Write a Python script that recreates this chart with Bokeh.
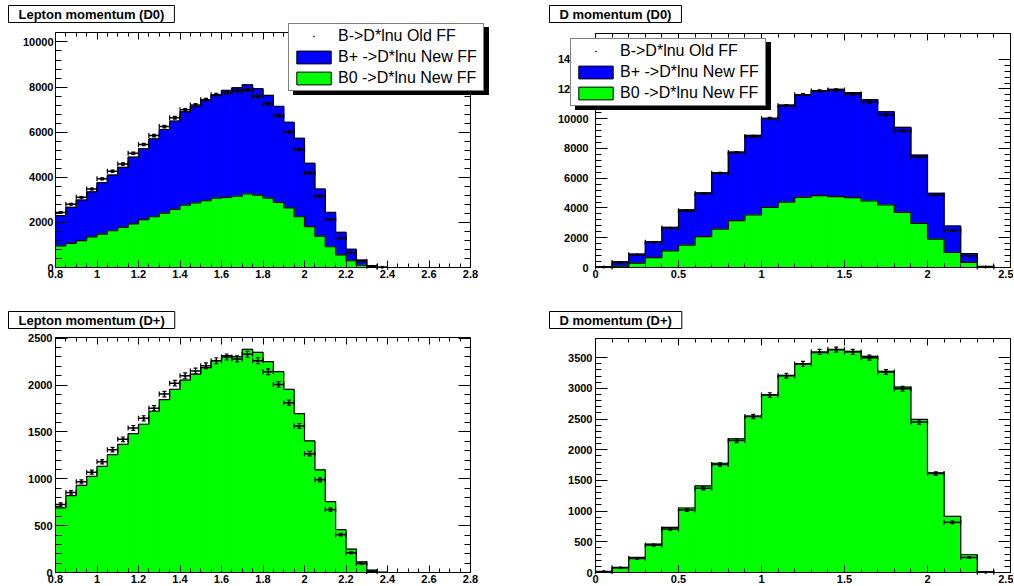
import numpy as np
from bokeh.plotting import figure
from bokeh.models import (Range1d, FixedTicker, CustomJSTickFormatter, LinearAxis,
                          Legend, LegendItem, Label)
from bokeh.layouts import column, row
from bokeh.embed import file_html
from bokeh.resources import INLINE

# ---------------- data ----------------
titles = ["Lepton momentum (D0)", "D momentum (D0)", "Lepton momentum (D+)", "D momentum (D+)"]
legend_labels = ["B->D*lnu Old FF", "B+ ->D*lnu New FF", "B0 ->D*lnu New FF"]

# binning
lep_edges = np.round(np.linspace(0.8, 2.8, 41), 3)     # 40 bins of 0.05
dmom_edges = np.round(np.linspace(0.0, 2.5, 26), 3)    # 25 bins of 0.1

# Lepton momentum (D0)
lep_d0_b0 = [960, 1070, 1190, 1360, 1480, 1630, 1780, 1930, 2120, 2250, 2410, 2580, 2760, 2860,
             2960, 3080, 3110, 3160, 3260, 3210, 3080, 2890, 2640, 2250, 1810, 1390, 920, 560,
             300, 100, 30, 0, 0, 0, 0, 0, 0, 0, 0, 0]
lep_d0_bplus = [1340, 1600, 1800, 1990, 2280, 2470, 2660, 2960, 3140, 3450, 3710, 3910, 4140, 4280,
                4480, 4580, 4740, 4810, 4840, 4720, 4550, 4250, 3800, 3480, 2810, 2090, 1520, 1000,
                510, 230, 40, 10, 0, 0, 0, 0, 0, 0, 0, 0]
lep_d0_old = [2440, 2810, 3110, 3480, 3930, 4270, 4590, 5070, 5450, 5850, 6250, 6640, 6990, 7210,
              7440, 7660, 7750, 7840, 7870, 7590, 7260, 6730, 6010, 5230, 4190, 3160, 2130, 1300,
              670, 280, 60, 10, 0, 0, 0, 0, 0, 0, 0, 0]
lep_d0_old_err = [35, 37, 39, 41, 44, 46, 47, 50, 52, 54, 55, 57, 58, 59, 60, 61, 62, 62, 62, 61,
                  60, 57, 54, 51, 45, 39, 32, 25, 18, 12, 5, 2, 0, 0, 0, 0, 0, 0, 0, 0]

# D momentum (D0)
d_d0_b0 = [10, 90, 290, 670, 1120, 1510, 2070, 2580, 3150, 3530, 4040, 4400, 4720, 4830, 4760,
           4700, 4470, 4200, 3710, 2970, 1910, 1010, 340, 20, 0]
d_d0_bplus = [40, 290, 610, 1060, 1580, 2360, 2940, 3780, 4600, 5350, 5980, 6520, 6900, 7060, 7220,
              7050, 6810, 6270, 5710, 4580, 3080, 1780, 600, 50, 0]
d_d0_old = [30, 340, 850, 1690, 2650, 3820, 4970, 6340, 7730, 8810, 10020, 10880, 11620, 11870,
            11930, 11660, 11120, 10270, 9190, 7420, 4880, 2490, 790, 40, 0]
d_d0_old_err = [4, 13, 20, 29, 36, 43, 49, 56, 62, 66, 70, 73, 75, 76, 76, 76, 74, 71, 67, 60, 49,
                35, 20, 4, 0]

# Lepton momentum (D+)
lep_dp_new = [689, 821, 929, 1025, 1132, 1257, 1368, 1482, 1582, 1721, 1846, 1954, 2054, 2118, 2186,
              2261, 2314, 2304, 2382, 2350, 2250, 2143, 1954, 1696, 1404, 1096, 757, 457, 250, 114,
              25, 3, 0, 0, 0, 0, 0, 0, 0, 0]
lep_dp_old = [725, 854, 968, 1071, 1182, 1311, 1421, 1543, 1646, 1754, 1904, 2021, 2100, 2150, 2207,
              2261, 2300, 2279, 2329, 2261, 2143, 2007, 1811, 1564, 1268, 989, 671, 404, 211, 96,
              11, 0, 0, 0, 0, 0, 0, 0, 0, 0]
lep_dp_old_err = [18, 19, 21, 22, 23, 24, 25, 26, 27, 28, 29, 30, 30, 31, 31, 31, 32, 32, 32, 31,
                  31, 30, 28, 26, 24, 21, 17, 13, 10, 6, 2, 0, 0, 0, 0, 0, 0, 0, 0, 0]

# D momentum (D+)
d_dp_new = [10, 82, 245, 463, 735, 1051, 1410, 1780, 2177, 2548, 2896, 3212, 3402, 3582, 3631, 3604,
            3522, 3277, 3021, 2493, 1622, 915, 289, 11, 0]
d_dp_old = [16, 76, 229, 446, 708, 1018, 1372, 1758, 2150, 2542, 2890, 3206, 3397, 3593, 3631, 3593,
            3500, 3266, 2994, 2450, 1611, 817, 245, 5, 0]
d_dp_old_err = [3, 6, 11, 15, 19, 22, 26, 29, 33, 35, 38, 40, 41, 42, 42, 42, 41, 40, 38, 35, 28,
                20, 11, 2, 0]

# axis ticks and ranges
lep_x_ticks = [0.8, 1.0, 1.2, 1.4, 1.6, 1.8, 2.0, 2.2, 2.4, 2.6, 2.8]
dmom_x_ticks = [0.0, 0.5, 1.0, 1.5, 2.0, 2.5]
y_ticks_lep_d0 = [0, 2000, 4000, 6000, 8000, 10000]
y_ticks_d_d0 = [0, 2000, 4000, 6000, 8000, 10000, 12000, 14000]
y_ticks_lep_dp = [0, 500, 1000, 1500, 2000, 2500]
y_ticks_d_dp = [0, 500, 1000, 1500, 2000, 2500, 3000, 3500]
y_max = [10420, 15730, 2508, 3812]

# ---------------- styling ----------------
FONT = "Liberation Sans"
BLUE = "#0000ff"
GREEN = "#00ff00"


def minor_between(ticks, n):
    out = []
    for a, b in zip(ticks[:-1], ticks[1:]):
        for k in range(1, n):
            out.append(round(a + (b - a) * k / n, 6))
    return out


def make_axis(ticks, nminor, major_in, minor_in, fixed, bounds, labels, standoff=3):
    ax = LinearAxis(ticker=FixedTicker(ticks=ticks, minor_ticks=minor_between(ticks, nminor)),
                    fixed_location=fixed, bounds=bounds)
    ax.major_tick_in = major_in
    ax.major_tick_out = 0
    ax.minor_tick_in = minor_in
    ax.minor_tick_out = 0
    ax.axis_line_color = "black"
    ax.axis_line_width = 1
    ax.major_tick_line_color = "black"
    ax.minor_tick_line_color = "black"
    if labels:
        ax.formatter = CustomJSTickFormatter(code="return String(Math.round(tick*1000)/1000);")
        ax.major_label_text_font = FONT
        ax.major_label_text_font_style = "bold"
        ax.major_label_text_font_size = "11px"
        ax.major_label_text_color = "black"
        ax.major_label_standoff = standoff
    else:
        ax.formatter = CustomJSTickFormatter(code="return '';")
        ax.major_label_text_font_size = "0px"
        ax.major_label_standoff = 0
    return ax


class Panel:
    """One pad: a figure whose frame is the whole pad; the plot box sits inside it."""

    def __init__(self, W, H, L, T, w, h, x0, x1, ymax, xt, xn, yt, yn, ystand):
        self.W, self.H = W, H
        self.ux = (x1 - x0) / w
        self.uy = ymax / h
        xr = Range1d(x0 - L * self.ux, x1 + (W - L - w) * self.ux)
        yr = Range1d(-(H - T - h) * self.uy, ymax + T * self.uy)
        self.xr, self.yr = xr, yr
        p = figure(width=W, height=H, x_range=xr, y_range=yr, output_backend="svg",
                   toolbar_location=None, tools="", x_axis_location=None, y_axis_location=None,
                   min_border=0)
        p.grid.visible = False
        p.outline_line_color = None
        p.background_fill_color = "white"
        p.border_fill_color = "white"
        p.title.visible = False
        p.add_layout(make_axis(xt, xn, 7, 4, 0, (x0, x1), True, 2), "below")
        p.add_layout(make_axis(xt, xn, 7, 4, ymax, (x0, x1), False), "above")
        p.add_layout(make_axis(yt, yn, 12, 6, x0, (0, ymax), True, ystand), "left")
        p.add_layout(make_axis(yt, yn, 12, 6, x1, (0, ymax), False), "right")
        self.p = p

    def dx(self, px):
        return self.xr.start + px * self.ux

    def dy(self, py):
        return self.yr.end - py * self.uy


def draw_hist(p, edges, top, color):
    left = edges[:-1]
    right = edges[1:]
    top = np.asarray(top, dtype=float)
    p.quad(left=left, right=right, top=top, bottom=np.zeros_like(top),
           fill_color=color, line_color=color, line_width=1)
    p.step(x=np.append(left, right[-1]), y=np.append(top, top[-1]), mode="after",
           line_color="black", line_width=1.2)


def draw_points(p, edges, vals, errs):
    vals = np.asarray(vals, dtype=float)
    errs = np.asarray(errs, dtype=float)
    m = vals > 0
    left = edges[:-1][m]
    right = edges[1:][m]
    xc = (left + right) / 2
    v = vals[m]
    e = errs[m]
    p.segment(x0=left, y0=v, x1=right, y1=v, line_color="black", line_width=1.5)
    p.segment(x0=xc, y0=v - e, x1=xc, y1=v + e, line_color="black", line_width=1.2)
    p.scatter(x=np.concatenate([left, right]), y=np.concatenate([v, v]), marker="dash",
              angle=np.pi / 2, size=5, line_color="black", line_width=1.2)
    p.scatter(x=np.concatenate([xc, xc]), y=np.concatenate([v - e, v + e]), marker="dash",
              size=4, line_color="black", line_width=1.2)
    return p.scatter(x=xc, y=v, marker="dot", size=12, color="black")


def add_title(pn, text, px, py):
    pn.p.add_layout(Label(x=pn.dx(px), y=pn.dy(py), text=text, anchor="top_left",
                          text_font=FONT, text_font_style="bold", text_font_size="13px",
                          text_color="black", padding=(10, 1),
                          border_line_color="black", border_line_width=1,
                          background_fill_color="white"))


def add_legend(pn, dots, px_left, px_bottom):
    p = pn.p
    nan = [np.nan]
    blue_proxy = p.quad(left=nan, right=nan, top=nan, bottom=nan, fill_color=BLUE,
                        line_color="black", line_width=1)
    green_proxy = p.quad(left=nan, right=nan, top=nan, bottom=nan, fill_color=GREEN,
                         line_color="black", line_width=1)
    rends = [dots, blue_proxy, green_proxy]
    common = dict(label_text_font=FONT, label_text_font_size="16px", glyph_width=43,
                  glyph_height=16, label_standoff=3, padding=3, spacing=3, label_height=18,
                  label_width=142, margin=0, border_line_width=1, background_fill_alpha=1)
    loc = (px_left, pn.H - px_bottom)
    shadow = Legend(items=[LegendItem(label=" ", renderers=[r]) for r in rends],
                    location=(loc[0] + 5, loc[1] - 4), background_fill_color="black",
                    border_line_color="black", label_text_alpha=0, **common)
    main = Legend(items=[LegendItem(label=l, renderers=[r]) for l, r in zip(legend_labels, rends)],
                  location=loc, background_fill_color="white", border_line_color="black",
                  label_text_color="black", **common)
    p.add_layout(shadow, "center")
    p.add_layout(main, "center")


# ---------------- panels ----------------
LW, RW, TH, BH = 507, 506, 293, 292

a = Panel(LW, TH, 55, 32, 415, 235, 0.8, 2.8, y_max[0], lep_x_ticks, 4, y_ticks_lep_d0, 5, 2)
draw_hist(a.p, lep_edges, np.add(lep_d0_b0, lep_d0_bplus), BLUE)
draw_hist(a.p, lep_edges, lep_d0_b0, GREEN)
dots_a = draw_points(a.p, lep_edges, lep_d0_old, lep_d0_old_err)
add_legend(a, dots_a, 288, 91)
add_title(a, titles[0], 8, 5)

b = Panel(RW, TH, 88, 33, 415, 234, 0.0, 2.5, y_max[1], dmom_x_ticks, 5, y_ticks_d_d0, 5, 7)
draw_hist(b.p, dmom_edges, np.add(d_d0_b0, d_d0_bplus), BLUE)
draw_hist(b.p, dmom_edges, d_d0_b0, GREEN)
dots_b = draw_points(b.p, dmom_edges, d_d0_old, d_d0_old_err)
add_legend(b, dots_b, 63, 106)
add_title(b, titles[1], 42, 5)

c = Panel(LW, BH, 55, 44, 415, 235, 0.8, 2.8, y_max[2], lep_x_ticks, 4, y_ticks_lep_dp, 5, 3)
draw_hist(c.p, lep_edges, lep_dp_new, GREEN)
draw_points(c.p, lep_edges, lep_dp_old, lep_dp_old_err)
add_title(c, titles[2], 8, 18)

d = Panel(RW, BH, 88, 45, 415, 234, 0.0, 2.5, y_max[3], dmom_x_ticks, 5, y_ticks_d_dp, 5, 3)
draw_hist(d.p, dmom_edges, d_dp_new, GREEN)
draw_points(d.p, dmom_edges, d_dp_old, d_dp_old_err)
add_title(d, titles[3], 42, 18)

layout = column(row(a.p, b.p), row(c.p, d.p))
open("out.html", "w").write(file_html(layout, INLINE))
